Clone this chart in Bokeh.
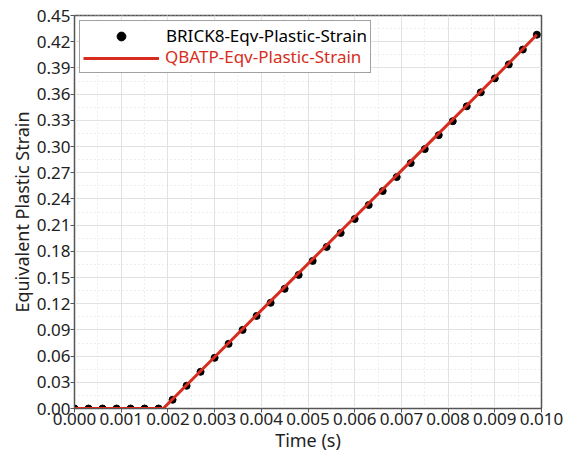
from bokeh.plotting import figure
from bokeh.models import (FixedTicker, NumeralTickFormatter, Legend, LegendItem,
                          ColumnDataSource)
from bokeh.embed import file_html
from bokeh.resources import INLINE

# --- data ---
brick_time = [0.0000, 0.0003, 0.0006, 0.0009, 0.0012, 0.0015, 0.0018, 0.0021,
              0.0024, 0.0027, 0.0030, 0.0033, 0.0036, 0.0039, 0.0042, 0.0045,
              0.0048, 0.0051, 0.0054, 0.0057, 0.0060, 0.0063, 0.0066, 0.0069,
              0.0072, 0.0075, 0.0078, 0.0081, 0.0084, 0.0087, 0.0090, 0.0093,
              0.0096, 0.0099]
brick_strain = [0.000, 0.000, 0.000, 0.000, 0.000, 0.000, 0.000, 0.010,
                0.026, 0.042, 0.058, 0.074, 0.090, 0.106, 0.121, 0.137,
                0.153, 0.169, 0.185, 0.201, 0.217, 0.233, 0.249, 0.265,
                0.281, 0.297, 0.313, 0.329, 0.346, 0.362, 0.378, 0.394,
                0.411, 0.428]
qbatp_time = [0.0000, 0.0019, 0.0030, 0.0045, 0.0060, 0.0075, 0.0090, 0.0099]
qbatp_strain = [0.000, 0.000, 0.059, 0.139, 0.219, 0.299, 0.379, 0.428]

x_ticks = [0.000, 0.001, 0.002, 0.003, 0.004, 0.005, 0.006, 0.007, 0.008, 0.009, 0.010]
y_ticks = [0.00, 0.03, 0.06, 0.09, 0.12, 0.15, 0.18, 0.21, 0.24, 0.27, 0.30,
           0.33, 0.36, 0.39, 0.42, 0.45]
x_minor = [0.0005 * i for i in range(21)]
y_minor = [0.015 * i for i in range(31)]

FONT = "Noto Sans"
RED = "#d62d20"

p = figure(width=563, height=454, output_backend="svg", toolbar_location=None,
           x_range=(0.0, 0.010), y_range=(0.0, 0.45),
           min_border_left=74, min_border_right=22, min_border_top=15,
           min_border_bottom=10)

p.xaxis.ticker = FixedTicker(ticks=x_ticks, minor_ticks=x_minor)
p.yaxis.ticker = FixedTicker(ticks=y_ticks, minor_ticks=y_minor)
p.xaxis.formatter = NumeralTickFormatter(format="0.000")
p.yaxis.formatter = NumeralTickFormatter(format="0.00")
p.xaxis.axis_label = "Time (s)"
p.yaxis.axis_label = "Equivalent Plastic Strain"

for ax in (p.xaxis, p.yaxis):
    ax.major_label_text_font = FONT
    ax.major_label_text_font_size = "17px"
    ax.axis_label_text_font = FONT
    ax.axis_label_text_font_size = "18px"
    ax.axis_label_text_font_style = "normal"
    ax.axis_label_text_color = "#222222"
    ax.major_label_text_color = "#222222"
    ax.axis_line_color = "#555555"
    ax.major_tick_line_color = "#555555"
    ax.minor_tick_line_color = None
    ax.major_tick_out = 4
    ax.major_tick_in = 0
    ax.major_label_standoff = 0
    ax.axis_label_standoff = 0

p.xgrid.grid_line_color = "#e2e2e2"
p.ygrid.grid_line_color = "#e2e2e2"
p.xgrid.minor_grid_line_color = "#dddddd"
p.ygrid.minor_grid_line_color = "#dddddd"
p.xgrid.minor_grid_line_dash = "1 3"
p.ygrid.minor_grid_line_dash = "1 3"

p.outline_line_color = "#555555"
p.outline_line_width = 1.5

src_b = ColumnDataSource(dict(t=brick_time, v=brick_strain))
src_q = ColumnDataSource(dict(t=qbatp_time, v=qbatp_strain))

r_pts = p.scatter("t", "v", source=src_b, size=7, color="black")
r_line = p.line("t", "v", source=src_q, line_color=RED, line_width=3)

# invisible helper renderer for the red-text overlay legend
r_blank = p.line("t", "v", source=src_q, line_alpha=0)

common = dict(location="top_left", margin=5, padding=3, spacing=0,
              glyph_width=76, glyph_height=22, label_height=22,
              label_standoff=7, label_text_font=FONT,
              label_text_font_size="17px")

leg_a = Legend(items=[LegendItem(label="BRICK8-Eqv-Plastic-Strain", renderers=[r_pts]),
                      LegendItem(label="", renderers=[r_line])],
               border_line_color="#444444", border_line_width=1,
               background_fill_color="white", background_fill_alpha=1,
               label_text_color="black", **common)
leg_b = Legend(items=[LegendItem(label="", renderers=[r_blank]),
                      LegendItem(label="QBATP-Eqv-Plastic-Strain", renderers=[r_blank])],
               border_line_alpha=0, background_fill_alpha=0,
               label_text_color=RED, **common)
p.add_layout(leg_a)
p.add_layout(leg_b)

open("out.html", "w").write(file_html(p, INLINE))
